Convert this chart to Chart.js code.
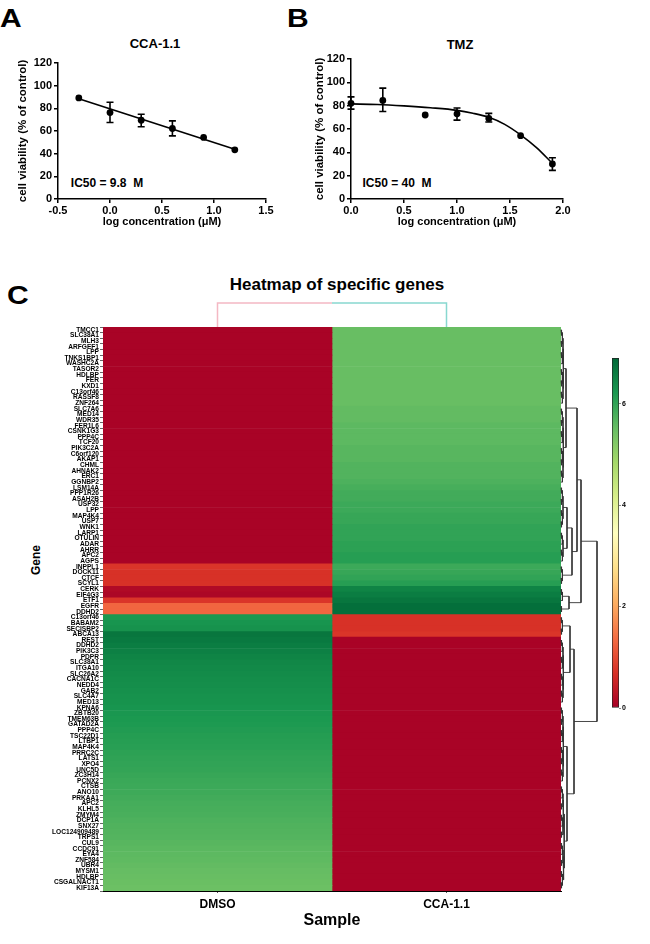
<!DOCTYPE html>
<html>
<head>
<meta charset="utf-8">
<script src="https://cdn.jsdelivr.net/npm/chart.js@4.4.1/dist/chart.umd.min.js"></script>
<style>
body { margin: 0; background: #fff; width: 650px; height: 944px; position: relative; overflow: hidden; font-family: "Liberation Sans", Arial, sans-serif; }
canvas { position: absolute; }
.t { position: absolute; font-weight: bold; color: #000; white-space: pre; line-height: 1; transform: translate(-50%, -50%); }
.big { position: absolute; font-weight: bold; color: #000; line-height: 1; font-size: 25px; transform: scaleX(1.2); transform-origin: left top; }
</style>
</head>
<body>
<div class="big" style="left:0px;top:6px">A</div>
<div class="big" style="left:287px;top:6px">B</div>
<div class="big" style="left:7px;top:283px">C</div>

<div class="t" style="left:155px;top:43px;font-size:13px">CCA-1.1</div>
<div class="t" style="left:460px;top:44px;font-size:13px">TMZ</div>
<div class="t" style="left:107px;top:183px;font-size:12px">IC50 = 9.8  M</div>
<div class="t" style="left:397px;top:183px;font-size:12px">IC50 = 40  M</div>

<div class="t" style="left:337px;top:284px;font-size:17px">Heatmap of specific genes</div>
<div class="t" style="left:36px;top:560px;font-size:12px;transform:translate(-50%,-50%) rotate(-90deg)">Gene</div>

<canvas id="doseA" width="280" height="235" style="left:0;top:0"></canvas>
<canvas id="doseB" width="300" height="235" style="left:280px;top:0"></canvas>
<canvas id="heat" width="600" height="624" style="left:0;top:320px"></canvas>
<canvas id="rowDend" width="50" height="624" style="left:555px;top:320px"></canvas>
<canvas id="colDend" width="458" height="37" style="left:103px;top:290px"></canvas>
<canvas id="colorBar" width="50" height="370" style="left:600px;top:350px"></canvas>

<script>
// --- panel A: CCA-1.1 ---
const aDose = [-0.3, 0, 0.3, 0.6, 0.9, 1.2];
const aMean = [89.2, 76.3, 69.5, 62.2, 54.3, 43.4];
const aLow = [null, 67.5, 63.7, 55.7, null, null];
const aHigh = [null, 85.4, 74.8, 68.9, null, null];
const aFitX = [-0.3, 1.2];
const aFitY = [88.5, 43.8];

// --- panel B: TMZ ---
const bDose = [0, 0.3, 0.7, 1.0, 1.3, 1.6, 1.9];
const bMean = [82, 84.5, 72, 73, 69, 54.3, 30];
const bLow = [77, 75, null, 67.6, 66, null, 24.5];
const bHigh = [87.5, 95, null, 78, 73.4, null, 35.4];
const bFitX = [0, 0.25, 0.5, 0.75, 1.0, 1.15, 1.3, 1.45, 1.6, 1.75, 1.9];
const bFitY = [81.5, 81, 79.8, 78.2, 76, 73.5, 70, 64, 55, 44, 30.5];

const viabilityTicks = [0, 20, 40, 60, 80, 100, 120];

// --- panel C: heatmap ---
const samples = ["DMSO", "CCA-1.1"];
const genes = ["TMCC1", "SLC38A1", "MLH3", "ARFGEF1", "LPP", "TNKS1BP1", "WASHC2A", "TASOR2", "HDLBP", "FER",
  "KXD1", "C13orf46", "RASSF8", "ZNF264", "SLC7A6", "MED14", "WDR35", "FER1L6", "CSNK1G3", "PPP4C",
  "TCF20", "PIK3C2A", "C6orf120", "AKAP1", "CHML", "AHNAK2", "ERC1", "GGNBP2", "LSM14A", "PPP1R26",
  "ASAH2B", "USP32", "LPP", "MAP4K4", "USP7", "WNK1", "LARP1", "OTULIN", "ADAR", "AHRR",
  "APC2", "AGPS", "INPPL1", "DOCK11", "CTCF", "SCYL1", "CERK", "EIF4G3", "ETF1", "EGFR",
  "DDHD2", "C13orf46", "BABAM2", "SECISBP2", "ABCA13", "REST", "DDHD2", "PIK3C3", "PDPR", "SLC38A1",
  "ITGA10", "SLC26A2", "CACNA1C", "NEDD4", "GAB2", "SLC4A7", "MED13", "KPNA6", "ZBTB20", "TMEM63B",
  "GATAD2A", "PPP4C", "TSC22D1", "LTBP1", "MAP4K4", "PRRC2C", "LATS1", "XPO4", "UNC5D", "ZC3H14",
  "PCNX2", "CTSB", "ANO10", "PRKAA1", "APC2", "KLHL5", "ZMYM4", "DCP1A", "SNX27", "LOC124909489",
  "TRPS1", "CUL9", "CCDC91", "EYA4", "ZNF584", "UBR4", "MYSM1", "HDLBP", "CSGALNACT1", "KIF13A"];

const dmsoValues = [0.05, 0.05, 0.05, 0.05, 0.05, 0.05, 0.05, 0.05, 0.05, 0.05,
  0.05, 0.05, 0.05, 0.05, 0.05, 0.05, 0.05, 0.05, 0.05, 0.05,
  0.05, 0.05, 0.05, 0.05, 0.05, 0.05, 0.05, 0.05, 0.05, 0.05,
  0.05, 0.05, 0.05, 0.05, 0.05, 0.05, 0.05, 0.05, 0.05, 0.05,
  0.05, 0.05, 0.75, 0.7, 0.7, 0.7, 0.15, 0.1, 0.75, 1.3,
  1.3, 6.2, 6.25, 6.3, 6.7, 6.65, 6.6, 6.55, 6.5, 6.45,
  6.42, 6.4, 6.37, 6.35, 6.32, 6.3, 6.28, 6.25, 6.22, 6.2,
  6.18, 6.15, 6.12, 6.1, 6.08, 6.05, 6.02, 6.0, 5.98, 5.95,
  5.92, 5.9, 5.88, 5.85, 5.82, 5.8, 5.78, 5.75, 5.72, 5.7,
  5.68, 5.65, 5.62, 5.6, 5.58, 5.55, 5.52, 5.5, 5.48, 5.45];

const ccaValues = [5.5, 5.5, 5.5, 5.5, 5.5, 5.5, 5.5, 5.5, 5.5, 5.5,
  5.5, 5.5, 5.5, 5.5, 5.55, 5.55, 5.55, 5.6, 5.6, 5.6,
  5.6, 5.65, 5.65, 5.65, 5.7, 5.7, 5.7, 5.75, 5.8, 5.85,
  5.85, 5.9, 5.9, 5.95, 5.95, 6.0, 6.0, 6.0, 6.05, 6.05,
  6.1, 6.1, 5.9, 5.95, 6.0, 6.1, 6.5, 6.6, 6.7, 6.8,
  6.8, 0.7, 0.7, 0.7, 0.75, 0.05, 0.05, 0.05, 0.05, 0.05,
  0.05, 0.05, 0.05, 0.05, 0.05, 0.05, 0.05, 0.05, 0.05, 0.05,
  0.05, 0.05, 0.05, 0.05, 0.05, 0.05, 0.05, 0.05, 0.05, 0.05,
  0.05, 0.05, 0.05, 0.05, 0.05, 0.05, 0.05, 0.05, 0.05, 0.05,
  0.05, 0.05, 0.05, 0.05, 0.05, 0.05, 0.05, 0.05, 0.05, 0.05];

const colorMax = 6.9;
const colorTicks = [0, 2, 4, 6];

// row dendrogram: leaf blocks, heights inside a block, and the tree joining the blocks
const rowBlocks = [[0, 13], [14, 27], [28, 35], [36, 41], [42, 45], [46, 48], [49, 50], [51, 54], [55, 66], [67, 80], [81, 99]];
const innerHeights = [0.8, 1.4, 2.0, 2.6, 3.2];
const blockTree = [36, [20, [16, [5, 0, 1], [11, [6, 2, 3], 4]], [8, 5, 6]], [13, [9, 7, 8], [6, 9, 10]]];
const colLinkHeight = 1;

const palette = ["#a50026", "#d73027", "#f46d43", "#fdae61", "#fee08b", "#ffffbf",
  "#d9ef8b", "#a6d96a", "#66bd63", "#1a9850", "#006837"];

const FONT = "'Liberation Sans', Arial, sans-serif";

function hexRgb(h) {
  return [parseInt(h.slice(1, 3), 16), parseInt(h.slice(3, 5), 16), parseInt(h.slice(5, 7), 16)];
}

function colorFor(v) {
  const t = Math.max(0, Math.min(1, v / colorMax)) * (palette.length - 1);
  const i = Math.min(Math.floor(t), palette.length - 2);
  const f = t - i;
  const a = hexRgb(palette[i]), b = hexRgb(palette[i + 1]);
  const c = a.map((x, k) => Math.round(x + (b[k] - x) * f));
  return `rgb(${c[0]},${c[1]},${c[2]})`;
}

// error bars drawn from the low/high arrays through the chart scales
const errorBars = {
  id: "errorBars",
  afterDatasetsDraw(chart, args, opts) {
    const { ctx, scales: { x, y } } = chart;
    ctx.save();
    ctx.strokeStyle = "#000";
    ctx.lineWidth = 1.6;
    opts.dose.forEach((d, i) => {
      if (opts.low[i] == null) return;
      const px = x.getPixelForValue(d);
      const p1 = y.getPixelForValue(opts.low[i]);
      const p2 = y.getPixelForValue(opts.high[i]);
      ctx.beginPath();
      ctx.moveTo(px, p1); ctx.lineTo(px, p2);
      ctx.moveTo(px - 3.5, p1); ctx.lineTo(px + 3.5, p1);
      ctx.moveTo(px - 3.5, p2); ctx.lineTo(px + 3.5, p2);
      ctx.stroke();
    });
    ctx.restore();
  }
};

function doseChart(id, dose, mean, low, high, fitX, fitY, xMin, xMax, pad, yWidth) {
  const tickFont = { family: FONT, size: 11, weight: "bold" };
  new Chart(document.getElementById(id), {
    type: "scatter",
    data: {
      datasets: [
        {
          data: fitX.map((x, i) => ({ x: x, y: fitY[i] })),
          showLine: true, borderColor: "#000", borderWidth: 1.6,
          pointRadius: 0, cubicInterpolationMode: "monotone", clip: false
        },
        {
          data: dose.map((x, i) => ({ x: x, y: mean[i] })),
          pointRadius: 3.4, backgroundColor: "#000", borderWidth: 0, clip: false
        }
      ]
    },
    options: {
      responsive: false, animation: false,
      layout: { padding: pad },
      plugins: { legend: { display: false }, tooltip: { enabled: false }, errorBars: { dose: dose, low: low, high: high } },
      scales: {
        x: {
          min: xMin, max: xMax,
          ticks: { stepSize: 0.5, color: "#000", font: tickFont, padding: 1, callback: v => v.toFixed(1) },
          grid: { drawOnChartArea: false, tickLength: 4, color: "#000", lineWidth: 1.5 },
          border: { color: "#000", width: 1.5 },
          title: { display: true, text: "log concentration (\u03bcM)", color: "#000",
            font: { family: FONT, size: 11, weight: "bold" }, padding: { top: 0, bottom: 6 } },
          afterFit: s => { s.height = 36; }
        },
        y: {
          min: 0, max: 120,
          afterBuildTicks: s => { s.ticks = viabilityTicks.map(v => ({ value: v })); },
          ticks: { color: "#000", font: tickFont, padding: 2 },
          grid: { drawOnChartArea: false, tickLength: 4, color: "#000", lineWidth: 1.5 },
          border: { color: "#000", width: 1.5 },
          title: { display: true, text: "cell viability (% of control)", color: "#000",
            font: { family: FONT, size: 11.5, weight: "bold" }, padding: { top: 4, bottom: 0 } },
          afterFit: s => { s.width = yWidth; }
        }
      }
    },
    plugins: [errorBars]
  });
}

doseChart("doseA", aDose, aMean, aLow, aHigh, aFitX, aFitY, -0.5, 1.5,
  { top: 63, left: 12, right: 14, bottom: 0 }, 46);
doseChart("doseB", bDose, bMean, bLow, bHigh, bFitX, bFitY, 0, 2,
  { top: 59, left: 29, right: 17, bottom: 0 }, 42);

// heatmap: one stacked bar per sample column, one row per gene
const columns = [dmsoValues, ccaValues];
new Chart(document.getElementById("heat"), {
  type: "bar",
  data: {
    labels: genes,
    datasets: samples.map((s, i) => ({
      label: s,
      data: genes.map(() => 1),
      backgroundColor: columns[i].map(colorFor),
      borderWidth: 0,
      barPercentage: 1,
      categoryPercentage: 1
    }))
  },
  options: {
    indexAxis: "y", responsive: false, animation: false,
    layout: { padding: { top: 7, right: 39, left: 0, bottom: 0 } },
    plugins: { legend: { display: false }, tooltip: { enabled: false } },
    scales: {
      x: {
        stacked: true, min: 0, max: 2,
        afterBuildTicks: s => { s.ticks = samples.map((n, i) => ({ value: i + 0.5 })); },
        ticks: { color: "#000", font: { family: FONT, size: 12, weight: "bold" }, padding: 4,
          callback: (v, i) => samples[i] },
        grid: { drawOnChartArea: false, tickLength: 2, color: "#555" },
        border: { color: "#000", width: 1 },
        title: { display: true, text: "Sample", color: "#000",
          font: { family: FONT, size: 16, weight: "bold" }, padding: { top: 0, bottom: 14 } },
        afterFit: s => { s.height = 53; }
      },
      y: {
        stacked: true,
        ticks: { autoSkip: false, color: "#000", font: { family: FONT, size: 6.6, weight: "bold" }, padding: 1 },
        grid: { drawOnChartArea: false, tickLength: 3, color: "#000", lineWidth: 0.6 },
        border: { display: false },
        afterFit: s => { s.width = 103; }
      }
    }
  }
});

// row dendrogram
function buildRange(a, b, links) {
  if (a === b) return { y: a, h: 0, k: -1 };
  const m = Math.floor((a + b) / 2);
  const l = buildRange(a, m, links), r = buildRange(m + 1, b, links);
  const k = Math.min(Math.max(l.k, r.k) + 1, innerHeights.length - 1);
  const h = innerHeights[k];
  links.push([l, r, h]);
  return { y: (l.y + r.y) / 2, h: h, k: k };
}
function buildTree(node, links) {
  if (typeof node === "number") return buildRange(rowBlocks[node][0], rowBlocks[node][1], links);
  const l = buildTree(node[1], links), r = buildTree(node[2], links);
  links.push([l, r, node[0]]);
  return { y: (l.y + r.y) / 2, h: node[0], k: 99 };
}
const rowLinks = [];
buildTree(blockTree, rowLinks);

new Chart(document.getElementById("rowDend"), {
  type: "scatter",
  data: {
    datasets: rowLinks.map(([l, r, h]) => ({
      data: [{ x: l.h, y: l.y }, { x: h, y: l.y }, { x: h, y: r.y }, { x: r.h, y: r.y }],
      showLine: true, borderColor: "#333", borderWidth: 0.9, pointRadius: 0, clip: false
    }))
  },
  options: {
    responsive: false, animation: false,
    layout: { padding: { top: 7, bottom: 53, left: 6, right: 5 } },
    plugins: { legend: { display: false }, tooltip: { enabled: false } },
    scales: {
      x: { display: false, min: 0, max: 39 },
      y: { display: false, min: -0.5, max: genes.length - 0.5, reverse: true }
    }
  }
});

// column dendrogram
new Chart(document.getElementById("colDend"), {
  type: "scatter",
  data: {
    datasets: [
      { data: [{ x: 0.5, y: 0 }, { x: 0.5, y: colLinkHeight }, { x: 1, y: colLinkHeight }], borderColor: "#f4b8c3" },
      { data: [{ x: 1, y: colLinkHeight }, { x: 1.5, y: colLinkHeight }, { x: 1.5, y: 0 }], borderColor: "#88d8d0" }
    ].map(d => Object.assign(d, { showLine: true, borderWidth: 1.5, pointRadius: 0, clip: false }))
  },
  options: {
    responsive: false, animation: false,
    layout: { padding: { top: 13, bottom: 0, left: 0, right: 0 } },
    plugins: { legend: { display: false }, tooltip: { enabled: false } },
    scales: {
      x: { display: false, min: 0, max: 2 },
      y: { display: false, min: 0, max: colLinkHeight }
    }
  }
});

// colour bar
new Chart(document.getElementById("colorBar"), {
  type: "bar",
  data: {
    labels: [""],
    datasets: [{
      data: [colorMax],
      backgroundColor: ctx => {
        const area = ctx.chart.chartArea;
        if (!area) return palette[0];
        const g = ctx.chart.ctx.createLinearGradient(0, area.bottom, 0, area.top);
        palette.forEach((c, i) => g.addColorStop(i / (palette.length - 1), c));
        return g;
      },
      borderColor: "#222", borderWidth: 1, borderSkipped: false,
      barPercentage: 1, categoryPercentage: 1
    }]
  },
  options: {
    responsive: false, animation: false,
    layout: { padding: { top: 8, bottom: 12, left: 12, right: 0 } },
    plugins: { legend: { display: false }, tooltip: { enabled: false } },
    scales: {
      x: { display: false },
      y: {
        position: "right", min: 0, max: colorMax,
        afterBuildTicks: s => { s.ticks = colorTicks.map(v => ({ value: v })); },
        ticks: { color: "#000", font: { family: FONT, size: 7, weight: "bold" }, padding: 1 },
        grid: { drawOnChartArea: false, tickLength: 2, color: "#888" },
        border: { display: false },
        afterFit: s => { s.width = 31; }
      }
    }
  }
});
</script>
</body>
</html>
